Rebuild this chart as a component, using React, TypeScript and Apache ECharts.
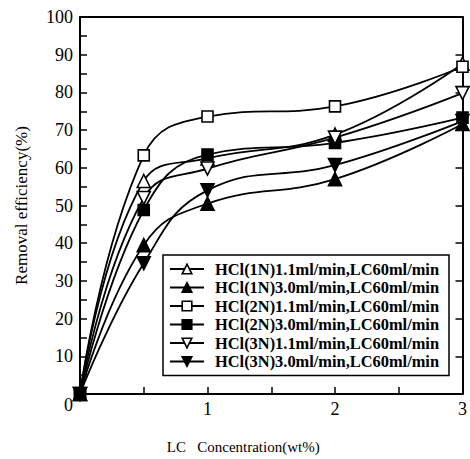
import React, { useEffect, useRef } from "react";
import * as echarts from "echarts";

const xValues = [0, 0.5, 1, 2, 3];
const seriesNames = [
  "HCl(1N)1.1ml/min,LC60ml/min",
  "HCl(1N)3.0ml/min,LC60ml/min",
  "HCl(2N)1.1ml/min,LC60ml/min",
  "HCl(2N)3.0ml/min,LC60ml/min",
  "HCl(3N)1.1ml/min,LC60ml/min",
  "HCl(3N)3.0ml/min,LC60ml/min",
];
const hcl1nLow = [0, 56.5, 62.5, 68.8, 87.6];
const hcl1nHigh = [0, 39.5, 50.5, 57.0, 71.6];
const hcl2nLow = [0, 63.3, 73.6, 76.3, 86.8];
const hcl2nHigh = [0, 48.8, 63.5, 66.6, 73.3];
const hcl3nLow = [0, 52.0, 59.8, 68.0, 79.8];
const hcl3nHigh = [0, 34.7, 54.0, 60.7, 72.4];
const yTicks = [10, 20, 30, 40, 50, 60, 70, 80, 90, 100];
const xTicks = [1, 2, 3];

const allValues = [hcl1nLow, hcl1nHigh, hcl2nLow, hcl2nHigh, hcl3nLow, hcl3nHigh];
const markers = [
  { symbol: "triangle", rotate: 0, filled: false },
  { symbol: "triangle", rotate: 0, filled: true },
  { symbol: "rect", rotate: 0, filled: false },
  { symbol: "rect", rotate: 0, filled: true },
  { symbol: "triangle", rotate: 180, filled: false },
  { symbol: "triangle", rotate: 180, filled: true },
];

export default function App() {
  const ref = useRef<HTMLDivElement>(null);
  useEffect(() => {
    if (!ref.current) return;
    const chart = echarts.init(ref.current, null, { renderer: "svg" });
    const serif = "'Liberation Serif', 'Times New Roman', serif";
    const series = allValues.map((vals, i) => ({
      name: seriesNames[i],
      type: "line",
      data: vals.map((v, j) => [xValues[j], v]),
      smooth: 0.45,
      clip: false,
      symbol: markers[i].symbol,
      symbolRotate: markers[i].rotate,
      symbolSize: markers[i].symbol === "rect" ? 11 : 13,
      showAllSymbol: true,
      lineStyle: { color: "#000", width: 1.8 },
      itemStyle: {
        color: markers[i].filled ? "#000" : "#fff",
        borderColor: "#000",
        borderWidth: 1.6,
      },
      z: 3,
    }));
    chart.setOption({
      animation: false,
      backgroundColor: "#fff",
      grid: { left: 80, right: 5, top: 17, bottom: 62, containLabel: false },
      legend: {
        orient: "vertical",
        left: 163,
        top: 255,
        padding: [6, 10, 6, 6],
        itemGap: 2.5,
        itemWidth: 34,
        itemHeight: 12,
        borderColor: "#000",
        borderWidth: 1.5,
        backgroundColor: "#fff",
        textStyle: {
          fontFamily: serif,
          fontWeight: "bold",
          fontSize: 16.4,
          color: "#000",
          padding: [0, 0, 0, 6],
        },
        data: seriesNames.map((n, i) => ({
          name: n,
          itemStyle: {
            color: markers[i].filled ? "#000" : "#fff",
            borderColor: "#000",
            borderWidth: 1.6,
          },
        })),
        z: 10,
      },
      xAxis: [
        {
          type: "value",
          min: 0,
          max: 3,
          interval: 0.5,
          name: "LC   Concentration(wt%)",
          nameLocation: "middle",
          nameGap: 45,
          nameTextStyle: {
            fontFamily: serif,
            fontSize: 15,
            color: "#000",
            padding: [0, 56, 0, 0],
          },
          axisLine: { lineStyle: { color: "#000", width: 2 } },
          axisTick: { inside: true, length: 7, lineStyle: { color: "#000", width: 1.5 } },
          axisLabel: {
            fontFamily: serif,
            fontSize: 18,
            color: "#000",
            margin: 6,
            formatter: (v: number) => (xTicks.includes(v) ? String(v) : ""),
          },
          splitLine: { show: false },
        },
        {
          type: "value",
          position: "top",
          min: 0,
          max: 3,
          interval: 0.5,
          axisLine: { show: true, onZero: false, lineStyle: { color: "#000", width: 2 } },
          axisTick: { show: false },
          axisLabel: { show: false },
          splitLine: { show: false },
        },
      ],
      yAxis: [
        {
          type: "value",
          min: 0,
          max: 100,
          interval: 10,
          name: "Removal efficiency(%)",
          nameLocation: "middle",
          nameGap: 50,
          nameTextStyle: { fontFamily: serif, fontSize: 17, color: "#000" },
          axisLine: { show: true, lineStyle: { color: "#000", width: 2 } },
          axisTick: { inside: true, length: 7, lineStyle: { color: "#000", width: 1.5 } },
          minorTick: { show: true, splitNumber: 2, length: 7, lineStyle: { color: "#000", width: 1.5 } },
          axisLabel: {
            fontFamily: serif,
            fontSize: 18,
            color: "#000",
            margin: 7,
            formatter: (v: number) => (yTicks.includes(v) ? String(v) : ""),
          },
          splitLine: { show: false },
          minorSplitLine: { show: false },
        },
        {
          type: "value",
          position: "right",
          min: 0,
          max: 100,
          interval: 10,
          axisLine: { show: true, onZero: false, lineStyle: { color: "#000", width: 2 } },
          axisTick: { inside: true, length: 7, lineStyle: { color: "#000", width: 1.5 } },
          minorTick: { show: false },
          axisLabel: { show: false },
          splitLine: { show: false },
        },
      ],
      graphic: [
        {
          type: "text",
          left: 64,
          top: 396,
          style: { text: "0", font: "18px 'Liberation Serif', serif", fill: "#000" },
        },
      ],
      series,
    });
    return () => chart.dispose();
  }, []);
  return (
    <div
      ref={ref}
      style={{ position: "fixed", left: 0, top: 0, width: 470, height: 459, background: "#fff" }}
    />
  );
}
